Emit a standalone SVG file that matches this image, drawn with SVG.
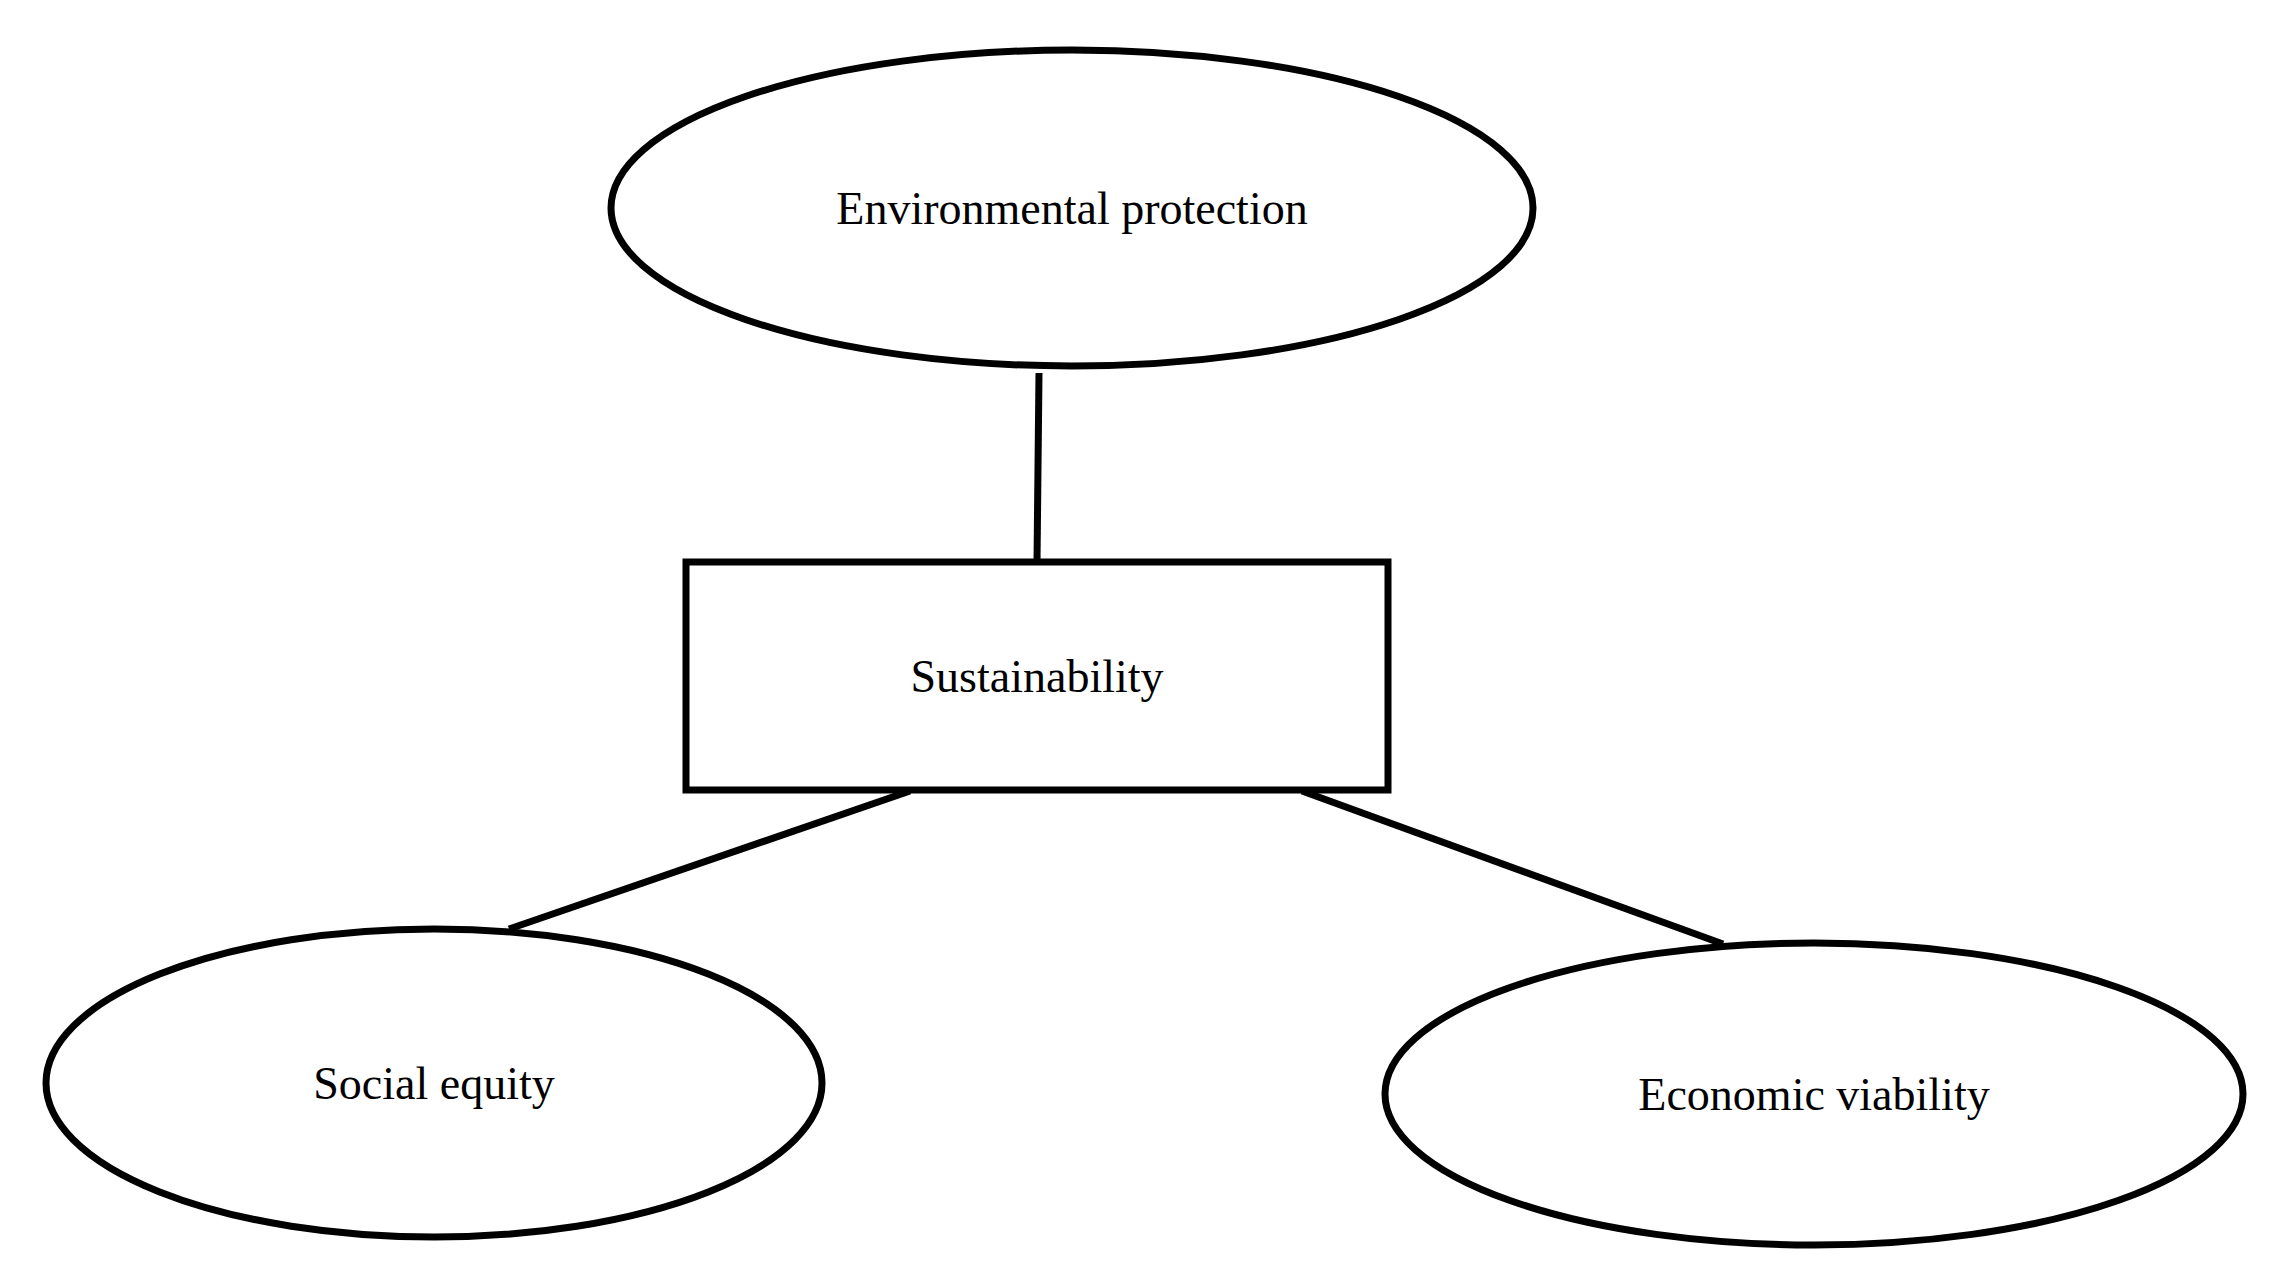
<svg xmlns="http://www.w3.org/2000/svg" width="2282" height="1287" viewBox="0 0 2282 1287">
<style>
.n{fill:#fff;stroke:#000;stroke-width:7}
.c line{stroke:#000;stroke-width:7}
text{font-family:"Liberation Serif",serif;font-size:46px;text-anchor:middle;dominant-baseline:central}
</style>
<rect width="2282" height="1287" fill="#fff"/>
<g class="c" id="connectors">
<line x1="1039" y1="373" x2="1037" y2="562"/>
<line x1="910" y1="791" x2="509" y2="929"/>
<line x1="1302" y1="791" x2="1723" y2="944"/>
</g>
<g id="env"><ellipse class="n" cx="1072" cy="208" rx="461" ry="158"/><text x="1072" y="208">Environmental protection</text></g>
<g id="sus"><rect class="n" x="686" y="562" width="702" height="228"/><text x="1037" y="676">Sustainability</text></g>
<g id="soc"><ellipse class="n" cx="434" cy="1083" rx="388" ry="154"/><text x="434" y="1083">Social equity</text></g>
<g id="eco"><ellipse class="n" cx="1814" cy="1094" rx="429" ry="151"/><text x="1814" y="1094">Economic viability</text></g>
</svg>
